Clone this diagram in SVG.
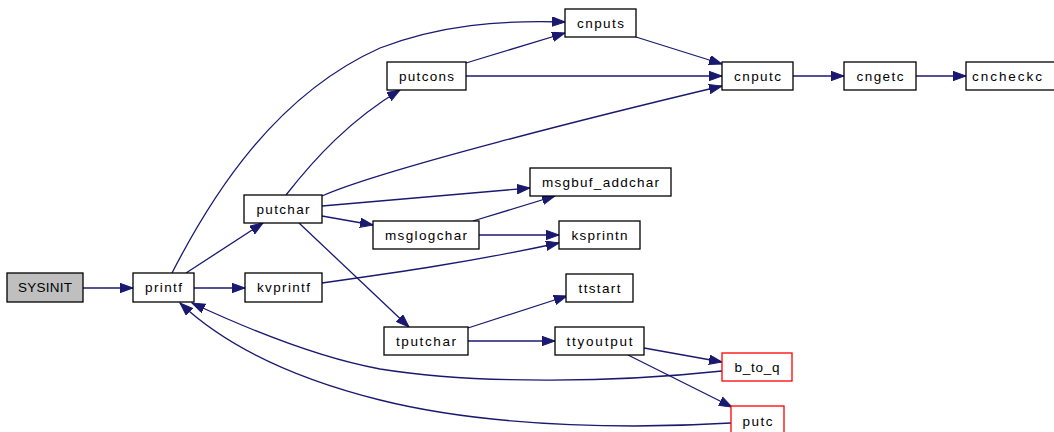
<svg xmlns="http://www.w3.org/2000/svg" width="1054" height="432" viewBox="0 0 1054 432">
  <style>
    .node rect { fill: #ffffff; stroke: #000000; stroke-width: 1.3; }
    .node.root rect { fill: #bfbfbf; }
    .node.ext rect { stroke: #ff0000; }
    .node text { font-family: "Liberation Sans", Arial, sans-serif; font-size: 13.5px; fill: #000000; text-anchor: middle; }
    .edges path { fill: none; stroke: #191970; stroke-width: 1.3; marker-end: url(#arrow); }
  </style>
  <defs>
    <marker id="arrow" markerUnits="userSpaceOnUse" markerWidth="14" markerHeight="10" refX="13" refY="4.7" orient="auto">
      <path d="M0,0 L13,4.7 L0,9.4 z" fill="#191970" stroke="#191970" stroke-width="1"/>
    </marker>
  </defs>
  <rect width="1054" height="432" fill="#ffffff"/>

  <!-- call edges -->
  <g class="edges">
    <path d="M83,288 L133,288"/>
    <path d="M194,288 L245,288"/>
    <path d="M186,273 L263,223"/>
    <path d="M172,273 C212,195 275,95 380,48 C440,25 500,20 565,22"/>
    <path d="M286,195 C315,158 350,120 400,90"/>
    <path d="M322,196 C380,170 600,115 722,86"/>
    <path d="M322,206 L530,188"/>
    <path d="M322,216 L373,225"/>
    <path d="M299,223 L409,327"/>
    <path d="M322,283 C400,272 470,262 559,243"/>
    <path d="M473,221 L555,196"/>
    <path d="M479,235 L559,235"/>
    <path d="M466,63 L565,33"/>
    <path d="M466,76 L722,76"/>
    <path d="M636,37 L722,64"/>
    <path d="M793,76 L844,76"/>
    <path d="M916,76 L966,76"/>
    <path d="M468,328 L567,296"/>
    <path d="M468,341 L555,341"/>
    <path d="M644,348 L722,362"/>
    <path d="M628,355 L732,407"/>
    <path d="M722,371 C620,382 480,385 380,369 C320,358 250,330 192,303"/>
    <path d="M731,423 C650,428 500,430 380,400 C300,380 230,350 180,303"/>
  </g>

  <!-- functions -->
  <g id="SYSINIT" class="node root"><rect x="7" y="273" width="76" height="29"/><text x="45" y="292" textLength="54" lengthAdjust="spacing">SYSINIT</text></g>
  <g id="printf" class="node"><rect x="133" y="273" width="61" height="29"/><text x="163.5" y="292" textLength="37" lengthAdjust="spacing">printf</text></g>
  <g id="kvprintf" class="node"><rect x="245" y="273" width="77" height="29"/><text x="283.5" y="292" textLength="53" lengthAdjust="spacing">kvprintf</text></g>
  <g id="putchar" class="node"><rect x="244" y="195" width="78" height="28"/><text x="283" y="214" textLength="53" lengthAdjust="spacing">putchar</text></g>
  <g id="putcons" class="node"><rect x="387" y="62" width="79" height="28"/><text x="426.5" y="81" textLength="55" lengthAdjust="spacing">putcons</text></g>
  <g id="cnputs" class="node"><rect x="565" y="9" width="71" height="28"/><text x="600.5" y="28" textLength="47" lengthAdjust="spacing">cnputs</text></g>
  <g id="cnputc" class="node"><rect x="722" y="62" width="71" height="28"/><text x="757.5" y="81" textLength="47" lengthAdjust="spacing">cnputc</text></g>
  <g id="cngetc" class="node"><rect x="844" y="62" width="72" height="28"/><text x="880" y="81" textLength="47" lengthAdjust="spacing">cngetc</text></g>
  <g id="cncheckc" class="node"><rect x="966" y="62" width="92" height="28"/><text x="1007" y="81" textLength="70" lengthAdjust="spacing">cncheckc</text></g>
  <g id="msgbuf_addchar" class="node"><rect x="530" y="168" width="141" height="28"/><text x="600.5" y="187" textLength="117" lengthAdjust="spacing">msgbuf_addchar</text></g>
  <g id="msglogchar" class="node"><rect x="373" y="221" width="106" height="28"/><text x="426" y="240" textLength="82" lengthAdjust="spacing">msglogchar</text></g>
  <g id="ksprintn" class="node"><rect x="559" y="221" width="81" height="28"/><text x="599.5" y="240" textLength="56" lengthAdjust="spacing">ksprintn</text></g>
  <g id="ttstart" class="node"><rect x="566" y="274" width="67" height="28"/><text x="599.5" y="293" textLength="42" lengthAdjust="spacing">ttstart</text></g>
  <g id="tputchar" class="node"><rect x="384" y="327" width="84" height="28"/><text x="426" y="346" textLength="60" lengthAdjust="spacing">tputchar</text></g>
  <g id="ttyoutput" class="node"><rect x="555" y="327" width="89" height="28"/><text x="599.5" y="346" textLength="66" lengthAdjust="spacing">ttyoutput</text></g>
  <g id="b_to_q" class="node ext"><rect x="722" y="353" width="70" height="28"/><text x="757" y="372" textLength="45" lengthAdjust="spacing">b_to_q</text></g>
  <g id="putc" class="node ext"><rect x="731" y="406" width="53" height="30"/><text x="757.5" y="426" textLength="30" lengthAdjust="spacing">putc</text></g>
</svg>
